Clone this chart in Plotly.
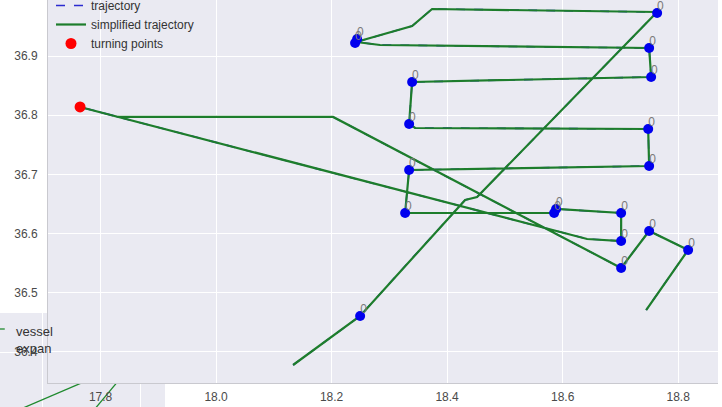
import plotly.graph_objects as go

# ---- vessel track (lon / lat) ----
traj_lon = [18.1333, 18.2000, 18.2494, 18.3400, 18.4312, 18.4519, 18.6000, 18.7636,
            18.5600, 18.3740, 18.3394, 18.2424, 18.2840, 18.6009, 18.7498, 18.7532,
            18.5500, 18.3394, 18.3342, 18.3446, 18.6000, 18.7481, 18.7498, 18.5200,
            18.3342, 18.3273, 18.4600, 18.5853, 18.5887, 18.7013, 18.7013, 18.6424,
            18.2000, 17.7645, 17.8303, 18.0500, 18.2026, 18.4500, 18.7013, 18.7498,
            18.8173, 18.7446]
traj_lat = [36.3780, 36.4262, 36.4608, 36.5590, 36.6568, 36.6618, 36.8107, 36.9743,
            36.9770, 36.9794, 36.9507, 36.9236, 36.9186, 36.9152, 36.9135, 36.8645,
            36.8602, 36.8561, 36.7851, 36.7784, 36.7774, 36.7767, 36.7142, 36.7106,
            36.7074, 36.6348, 36.6346, 36.6348, 36.6416, 36.6348, 36.5875, 36.5909,
            36.7031, 36.8139, 36.7970, 36.7971, 36.7970, 36.6702, 36.5419, 36.6044,
            36.5723, 36.4709]

simp_lon = [18.1333, 18.2494, 18.4312, 18.4519, 18.7636, 18.3740, 18.3394, 18.2424,
            18.2840, 18.6009, 18.7498, 18.7532, 18.3394, 18.3342, 18.3446, 18.7481,
            18.7498, 18.3342, 18.3273, 18.5853, 18.5887, 18.7013, 18.7013, 18.6424,
            17.7645, 17.8303, 18.2026, 18.7013, 18.7498, 18.8173, 18.7446]
simp_lat = [36.3780, 36.4608, 36.6568, 36.6618, 36.9743, 36.9794, 36.9507, 36.9236,
            36.9186, 36.9152, 36.9135, 36.8645, 36.8561, 36.7851, 36.7784, 36.7767,
            36.7142, 36.7074, 36.6348, 36.6348, 36.6416, 36.6348, 36.5875, 36.5909,
            36.8139, 36.7970, 36.7970, 36.5419, 36.6044, 36.5723, 36.4709]

# points flagged by the detector (all labelled with cluster id 0)
flag_lon = [18.2494, 18.7636, 18.2407, 18.2442, 18.7498, 18.7532, 18.3394, 18.3342,
            18.7481, 18.7498, 18.3342, 18.3273, 18.5853, 18.5887, 18.7013, 18.7013,
            18.7013, 18.7498, 18.8173]
flag_lat = [36.4608, 36.9726, 36.9220, 36.9287, 36.9135, 36.8645, 36.8561, 36.7851,
            36.7767, 36.7142, 36.7074, 36.6348, 36.6348, 36.6416, 36.6348, 36.5875,
            36.5419, 36.6044, 36.5723]
flag_label = ["0"] * len(flag_lon)

turn_lon = [17.7645]
turn_lat = [36.8139]

x_ticks = [17.8, 18.0, 18.2, 18.4, 18.6, 18.8]
y_ticks = [36.4, 36.5, 36.6, 36.7, 36.8, 36.9]

# ---- second figure peeking out underneath (vessel / expansion) ----
vessel_a_x = [-0.40, 1.00]
vessel_a_y = [-0.66, -0.06]
vessel_b_x = [0.49, 1.00]
vessel_b_y = [-0.64, -0.03]

W, H = 722, 407
BG = "#EAEAF2"
FONT = "Liberation Sans, Arial, sans-serif"

fig = go.Figure()

# background figure (subplot xy, drawn first)
for xs, ys in [(vessel_a_x, vessel_a_y), (vessel_b_x, vessel_b_y)]:
    fig.add_trace(go.Scatter(x=xs, y=ys, mode="lines", xaxis="x", yaxis="y",
                             line=dict(color="#1f8a2e", width=1.3),
                             showlegend=False, hoverinfo="skip"))

# main figure (subplot x2y2, drawn on top)
fig.add_trace(go.Scatter(x=traj_lon, y=traj_lat, mode="lines", name="trajectory",
                         xaxis="x2", yaxis="y2",
                         line=dict(color="#2b2bd0", width=1.6, dash="dash")))
fig.add_trace(go.Scatter(x=simp_lon, y=simp_lat, mode="lines", name="simplified trajectory",
                         xaxis="x2", yaxis="y2",
                         line=dict(color="#1d7d2c", width=2.2)))
fig.add_trace(go.Scatter(x=turn_lon, y=turn_lat, mode="markers", name="turning points",
                         xaxis="x2", yaxis="y2",
                         marker=dict(color="#ff0000", size=11)))
fig.add_trace(go.Scatter(x=flag_lon, y=flag_lat, mode="markers",
                         xaxis="x2", yaxis="y2", showlegend=False,
                         marker=dict(color="#0000ee", size=10)))
fig.add_trace(go.Scatter(x=flag_lon, y=flag_lat, mode="text", text=flag_label,
                         textposition="top right",
                         textfont=dict(family=FONT, size=12, color="#7a7a7a"),
                         xaxis="x2", yaxis="y2", showlegend=False))

axis_common = dict(showgrid=True, gridcolor="white", gridwidth=1.3, zeroline=False,
                   automargin=False, ticks="",
                   tickfont=dict(family=FONT, size=12, color="#4a4a4a"))

fig.update_layout(
    width=W, height=H,
    margin=dict(l=0, r=0, t=0, b=0, autoexpand=False),
    paper_bgcolor="white",
    plot_bgcolor=BG,
    font=dict(family=FONT, size=12, color="#333333"),
    showlegend=True,
    legend=dict(x=51 / W, y=1 + 9 / H, xanchor="left", yanchor="top",
                bgcolor="rgba(0,0,0,0)", borderwidth=0,
                font=dict(family=FONT, size=12, color="#333333"),
                tracegroupgap=0),
    xaxis=dict(domain=[0, 165 / W], range=[-42 / 98, 123 / 98], anchor="y",
               tickvals=[0, 1], showticklabels=False, **axis_common),
    yaxis=dict(domain=[0, 94 / H], range=[-55 / 98, 39 / 98], anchor="x",
               tickvals=[0], showticklabels=False, **axis_common),
    xaxis2=dict(domain=[48 / W, 718 / W], range=[17.709, 18.869], anchor="y2",
                tickvals=x_ticks, tickformat=".1f", ticklabelstandoff=3,
                showline=True, linecolor="#c9c9cf", linewidth=1, **axis_common),
    yaxis2=dict(domain=[24 / H, 1], range=[36.3476, 36.9946], anchor="x2",
                tickvals=y_ticks, tickformat=".1f", ticklabelstandoff=7,
                showline=True, linecolor="#c9c9cf", linewidth=1, **axis_common),
)

# legend of the underlying figure
fig.add_shape(type="line", xref="x", yref="y", x0=-0.46, x1=-0.38,
              y0=23 / 98, y1=23 / 98, line=dict(color="#1f8a2e", width=1.3))
for txt, py in [("vessel", 331), ("expan", 348)]:
    fig.add_annotation(text=txt, xref="paper", yref="paper", x=14 / W, y=1 - py / H,
                       xanchor="left", yanchor="middle", showarrow=False,
                       font=dict(family=FONT, size=13, color="#333333"))

fig.write_html("out.html")
